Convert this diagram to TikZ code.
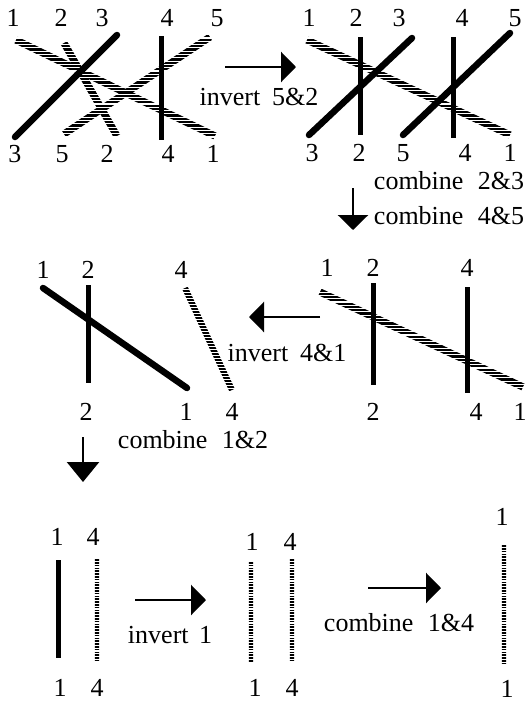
\documentclass[tikz,border=0pt]{standalone}
\usepackage{fontspec}
\setmainfont{Liberation Serif}
\usetikzlibrary{arrows.meta,calc}

% rope-like hatched strand: #1,#2 end coordinates, #3 half width, #4 stripe period, #5 stripe thickness
\newcommand\ropestrand[5]{%
  \begin{scope}
    \clip ($(#1)!#3!90:(#2)$) -- ($(#2)!#3!-90:(#1)$) -- ($(#2)!#3!90:(#1)$) -- ($(#1)!#3!-90:(#2)$) -- cycle;
    \foreach \k in {0,...,255} \draw[line width=#5] (0,#4*\k) -- (528,#4*\k);
  \end{scope}}

\tikzset{
  lbl/.style={inner sep=0pt},
  solidstrand/.style={line width=6.5pt, line cap=round},
  barstrand/.style={line width=5pt},
  flowarrow/.style={line width=2.5pt, -{Triangle[length=15pt,width=30pt]}},
}

\begin{document}
\begin{tikzpicture}[x=1pt,y=-1pt,font=\fontsize{26}{30}\selectfont]
\useasboundingbox (0,0) rectangle (528,702);

% ---------------- top-left panel ----------------
\coordinate (tl1a) at (16,40);   \coordinate (tl1b) at (215,136);
\coordinate (tl2a) at (64,43);   \coordinate (tl2b) at (117,136);
\coordinate (tl5a) at (210,37);  \coordinate (tl5b) at (64,134);
\coordinate (tl3a) at (15,137);  \coordinate (tl3b) at (117,35);
\coordinate (tl4a) at (161,36);  \coordinate (tl4b) at (161,140);
\ropestrand{tl1a}{tl1b}{3.6pt}{3.3}{2.2pt}
\ropestrand{tl2a}{tl2b}{3.6pt}{3.3}{2.2pt}
\ropestrand{tl5a}{tl5b}{3.6pt}{3.3}{2.2pt}
\draw[solidstrand] (tl3a) -- (tl3b);
\draw[barstrand] (tl4a) -- (tl4b);
\node[lbl] (tlt1) at (13,18) {1};
\node[lbl] (tlt2) at (61,18) {2};
\node[lbl] (tlt3) at (102,18) {3};
\node[lbl] (tlt4) at (167,18) {4};
\node[lbl] (tlt5) at (217,18) {5};
\node[lbl] (tlb3) at (15,154) {3};
\node[lbl] (tlb5) at (62,154) {5};
\node[lbl] (tlb2) at (107,154) {2};
\node[lbl] (tlb4) at (168,154) {4};
\node[lbl] (tlb1) at (213,154) {1};

% arrow invert 5&2
\coordinate (a1s) at (225,67); \coordinate (a1e) at (296,67);
\draw[flowarrow] (a1s) -- (a1e);
\node[lbl] (inv52) at (259,97) {invert\hspace{0.45em}5\&2};

% ---------------- top-right panel ----------------
\coordinate (tr1a) at (307,40);  \coordinate (tr1b) at (510,135);
\coordinate (tr2a) at (360,37);  \coordinate (tr2b) at (360,135);
\coordinate (tr3a) at (309,135); \coordinate (tr3b) at (412,38);
\coordinate (tr4a) at (453,37);  \coordinate (tr4b) at (453,138);
\coordinate (tr5a) at (403,135); \coordinate (tr5b) at (510,33);
\ropestrand{tr1a}{tr1b}{3.6pt}{3.3}{2.2pt}
\draw[barstrand] (tr2a) -- (tr2b);
\draw[solidstrand] (tr3a) -- (tr3b);
\draw[barstrand] (tr4a) -- (tr4b);
\draw[solidstrand] (tr5a) -- (tr5b);
\node[lbl] (trt1) at (309,18) {1};
\node[lbl] (trt2) at (356,18) {2};
\node[lbl] (trt3) at (399,18) {3};
\node[lbl] (trt4) at (462,18) {4};
\node[lbl] (trt5) at (515,18) {5};
\node[lbl] (trb3) at (312,153) {3};
\node[lbl] (trb2) at (359,153) {2};
\node[lbl] (trb5) at (403,153) {5};
\node[lbl] (trb4) at (465,153) {4};
\node[lbl] (trb1) at (510,153) {1};

% arrow combine 2&3 / 4&5
\coordinate (a2s) at (353,188); \coordinate (a2e) at (353,230);
\draw[flowarrow] (a2s) -- (a2e);
\node[lbl] (comb23) at (449,181) {combine\hspace{0.55em}2\&3};
\node[lbl] (comb45) at (449,216) {combine\hspace{0.55em}4\&5};

% ---------------- middle-right panel ----------------
\coordinate (mr1a) at (320,292); \coordinate (mr1b) at (523,387);
\coordinate (mr2a) at (373,283); \coordinate (mr2b) at (373,385);
\coordinate (mr4a) at (467,287); \coordinate (mr4b) at (467,393);
\ropestrand{mr1a}{mr1b}{3.6pt}{3.3}{2.2pt}
\draw[barstrand] (mr2a) -- (mr2b);
\draw[barstrand] (mr4a) -- (mr4b);
\node[lbl] (mrt1) at (327,268) {1};
\node[lbl] (mrt2) at (373,268) {2};
\node[lbl] (mrt4) at (467,268) {4};
\node[lbl] (mrb2) at (373,412) {2};
\node[lbl] (mrb4) at (476,412) {4};
\node[lbl] (mrb1) at (520,412) {1};

% arrow invert 4&1
\coordinate (a3s) at (320,317); \coordinate (a3e) at (249,317);
\draw[flowarrow] (a3s) -- (a3e);
\node[lbl] (inv41) at (287,353) {invert\hspace{0.45em}4\&1};

% ---------------- middle-left panel ----------------
\coordinate (ml1a) at (43,288);  \coordinate (ml1b) at (187,388);
\coordinate (ml2a) at (88,285);  \coordinate (ml2b) at (88,383);
\coordinate (ml4a) at (185,288); \coordinate (ml4b) at (232,390);
\ropestrand{ml4a}{ml4b}{3pt}{3.0}{1.9pt}
\draw[solidstrand] (ml1a) -- (ml1b);
\draw[barstrand] (ml2a) -- (ml2b);
\node[lbl] (mlt1) at (43,270) {1};
\node[lbl] (mlt2) at (88,270) {2};
\node[lbl] (mlt4) at (181,270) {4};
\node[lbl] (mlb2) at (86,412) {2};
\node[lbl] (mlb1) at (186,412) {1};
\node[lbl] (mlb4) at (232,412) {4};

% arrow combine 1&2
\coordinate (a4s) at (83,437); \coordinate (a4e) at (83,482);
\draw[line width=2.5pt, -{Triangle[length=20pt,width=32pt]}] (a4s) -- (a4e);
\node[lbl] (comb12) at (193,440) {combine\hspace{0.55em}1\&2};

% ---------------- bottom row ----------------
\coordinate (b1a) at (58,560);  \coordinate (b1b) at (58,658);
\coordinate (b4a) at (97,558);  \coordinate (b4b) at (97,660);
\draw[line width=5pt] (b1a) -- (b1b);
\ropestrand{b4a}{b4b}{2.2pt}{2.8}{1.7pt}
\node[lbl] (bt1) at (57,537) {1};
\node[lbl] (bt4) at (93,537) {4};
\node[lbl] (bb1) at (60,688) {1};
\node[lbl] (bb4) at (97,688) {4};

\coordinate (a5s) at (135,600); \coordinate (a5e) at (206,600);
\draw[flowarrow] (a5s) -- (a5e);
\node[lbl] (inv1) at (170,635) {invert\hspace{0.4em}1};

\coordinate (c1a) at (251,562); \coordinate (c1b) at (251,662);
\coordinate (c4a) at (292,558); \coordinate (c4b) at (292,660);
\ropestrand{c1a}{c1b}{2.2pt}{2.8}{1.7pt}
\ropestrand{c4a}{c4b}{2.2pt}{2.8}{1.7pt}
\node[lbl] (ct1) at (252,542) {1};
\node[lbl] (ct4) at (290,542) {4};
\node[lbl] (cb1) at (255,688) {1};
\node[lbl] (cb4) at (292,688) {4};

\coordinate (a6s) at (368,588); \coordinate (a6e) at (441,588);
\draw[flowarrow] (a6s) -- (a6e);
\node[lbl] (comb14) at (399,623) {combine\hspace{0.55em}1\&4};

\coordinate (d1a) at (504,545); \coordinate (d1b) at (504,663);
\ropestrand{d1a}{d1b}{2.2pt}{2.8}{1.7pt}
\node[lbl] (dt1) at (502,517) {1};
\node[lbl] (db1) at (507,689) {1};
\end{tikzpicture}
\end{document}
